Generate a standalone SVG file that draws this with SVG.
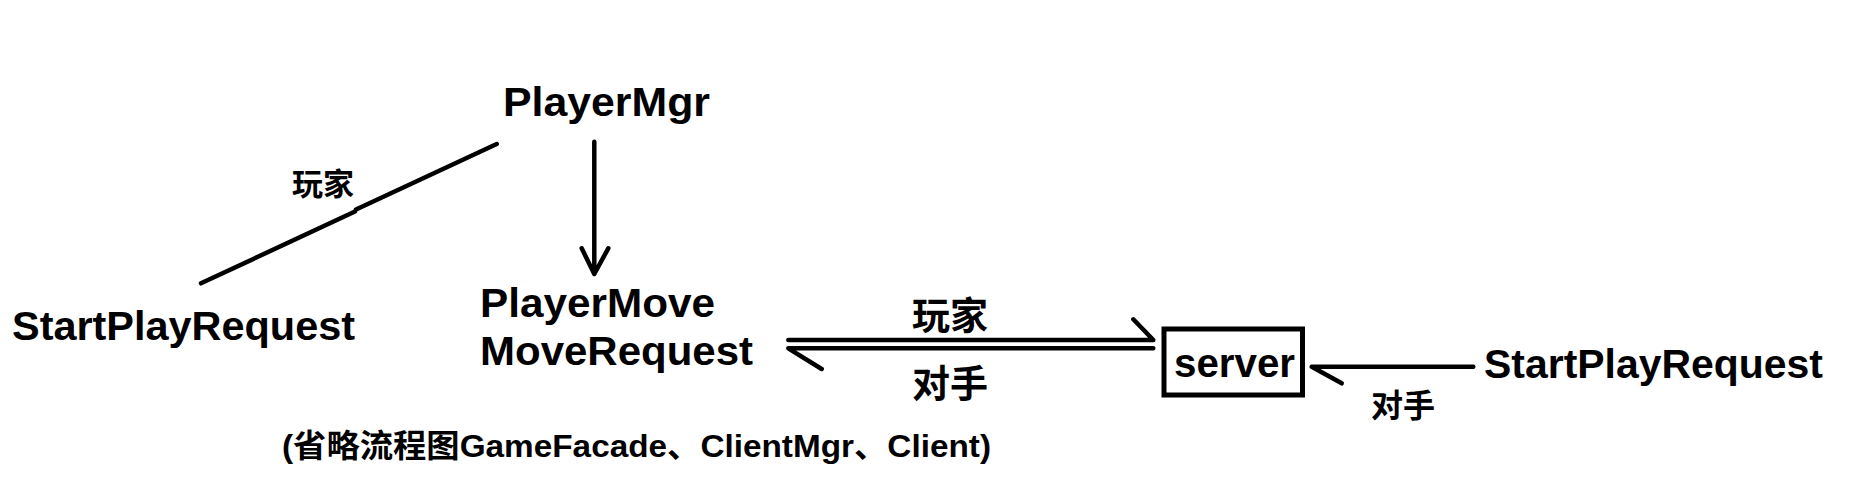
<svg xmlns="http://www.w3.org/2000/svg" width="1855" height="501" viewBox="0 0 1855 501">
<style>
.t{font-family:"Liberation Sans","Noto Sans CJK SC",sans-serif;font-weight:bold;fill:#000}
.big{font-size:41px}
.lbl{font-family:"Noto Sans CJK SC","Liberation Sans",sans-serif;font-weight:bold;fill:#000}
.ln{stroke:#000;stroke-width:4.5;fill:none;stroke-linecap:round;stroke-linejoin:round}
</style>
<rect width="1855" height="501" fill="#fff"/>
<g id="playermgr"><text class="t big" x="503" y="116" textLength="207" lengthAdjust="spacingAndGlyphs">PlayerMgr</text></g>
<g id="startplay-left"><text class="t big" x="12" y="340" textLength="343" lengthAdjust="spacingAndGlyphs">StartPlayRequest</text></g>
<g id="playermove">
<text class="t big" x="480" y="317" textLength="235" lengthAdjust="spacingAndGlyphs">PlayerMove</text>
<text class="t big" x="480" y="365" textLength="273" lengthAdjust="spacingAndGlyphs">MoveRequest</text>
</g>
<g id="server">
<rect x="1164" y="329" width="138.5" height="66" fill="none" stroke="#000" stroke-width="5"/>
<text class="t big" x="1174" y="377" textLength="121" lengthAdjust="spacingAndGlyphs">server</text>
</g>
<g id="startplay-right"><text class="t big" x="1484" y="378" textLength="339" lengthAdjust="spacingAndGlyphs">StartPlayRequest</text></g>
<g id="note"><text class="t" font-size="32" x="282" y="457" textLength="709" lengthAdjust="spacingAndGlyphs">(省略流程图GameFacade、ClientMgr、Client)</text></g>
<g id="connectors">
<path class="ln" d="M201,283.3 L355,211.5 M356,209.5 L496.7,144"/>
<path class="ln" d="M594.3,141.7 V274 M581.7,248.3 L594.3,274 L608.3,248.3"/>
<path class="ln" d="M788.3,340 H1153.3 L1133.3,319.3"/>
<path class="ln" d="M1153.3,348.3 H788.3 L821.7,369"/>
<path class="ln" d="M1473.3,366.7 H1311.7 L1341.7,383.3"/>
<text class="lbl" font-size="31" x="292" y="195">玩家</text>
<text class="lbl" font-size="38" x="912" y="329">玩家</text>
<text class="lbl" font-size="38" x="912" y="397">对手</text>
<text class="lbl" font-size="32" x="1371" y="417">对手</text>
</g>
</svg>
